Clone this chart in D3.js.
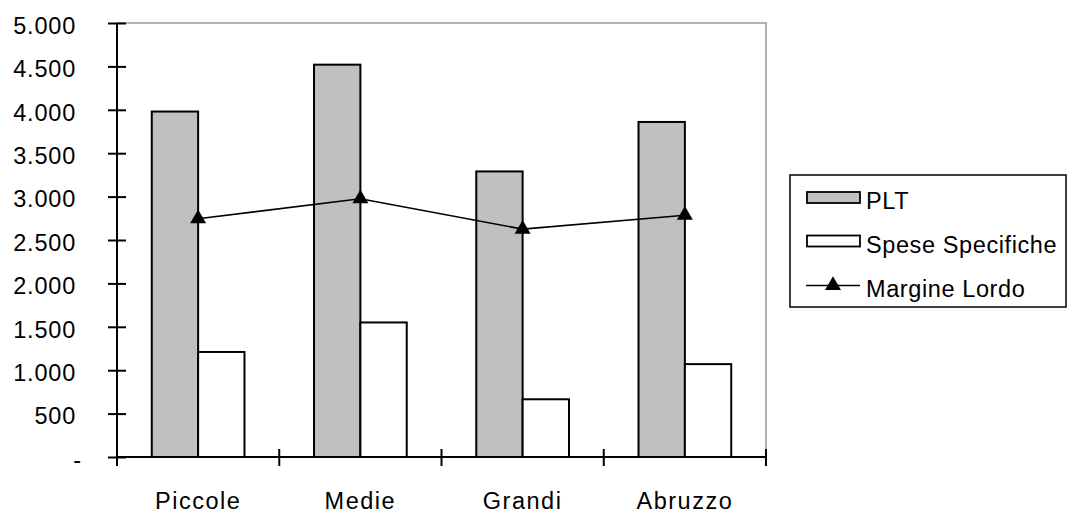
<!DOCTYPE html>
<html><head><meta charset="utf-8">
<script src="https://cdn.jsdelivr.net/npm/d3@7"></script>
<style>
html,body{margin:0;padding:0;background:#fff;}
svg{display:block;font-family:"Liberation Sans",Arial,sans-serif;}
</style></head>
<body>
<svg id="chart" width="1067" height="515"></svg>
<script>
const categories = ["Piccole", "Medie", "Grandi", "Abruzzo"];
const pltValues = [3980, 4520, 3290, 3860];
const speseValues = [1210, 1550, 665, 1070];
const margineValues = [2745, 2975, 2625, 2785];
const seriesNames = ["PLT", "Spese Specifiche", "Margine Lordo"];
const yTicks = [0, 500, 1000, 1500, 2000, 2500, 3000, 3500, 4000, 4500, 5000];
const yTickLabels = ["-", "500", "1.000", "1.500", "2.000", "2.500", "3.000", "3.500", "4.000", "4.500", "5.000"];

(function () {
const svg = d3.select("#chart");
const pL = 117, pR = 766, pT = 23, pB = 457;
const fs = 23.5;

const y = d3.scaleLinear().domain([0, 5000]).range([pB, pT]);
const x = d3.scaleBand().domain(categories).range([pL, pR]).paddingInner(0).paddingOuter(0);
const barW = x.bandwidth() / 3.5;
const xs = d3.scaleBand().domain(["PLT", "Spese"]).range([0, barW * 2]);

// frame (top & right, gray)
svg.append("path")
  .attr("d", `M${pL},${pT}H${pR}V${pB}`)
  .attr("fill", "none").attr("stroke", "#999").attr("stroke-width", 1.5);

// bars
const groups = svg.append("g").selectAll("g").data(categories).join("g")
  .attr("transform", d => `translate(${x(d) + x.bandwidth() / 2 - barW},0)`);
groups.append("rect")
  .attr("x", xs("PLT")).attr("width", xs.bandwidth())
  .attr("y", (d, i) => y(pltValues[i])).attr("height", (d, i) => pB - y(pltValues[i]))
  .attr("fill", "#c0c0c0").attr("stroke", "#000").attr("stroke-width", 2);
groups.append("rect")
  .attr("x", xs("Spese")).attr("width", xs.bandwidth())
  .attr("y", (d, i) => y(speseValues[i])).attr("height", (d, i) => pB - y(speseValues[i]))
  .attr("fill", "#fff").attr("stroke", "#000").attr("stroke-width", 2);

// y axis
const yAxis = d3.axisLeft(y).tickValues(yTicks).tickSize(0)
  .tickFormat((d, i) => yTickLabels[i]);
const gy = svg.append("g").attr("transform", `translate(${pL},0)`).call(yAxis);
gy.select(".domain").remove();
gy.selectAll(".tick text")
  .attr("x", d => d === 0 ? -35 : -41)
  .attr("dy", 10.3)
  .attr("font-size", fs).attr("fill", "#000")
  .attr("font-family", "'Liberation Sans',Arial,sans-serif")
  .style("letter-spacing", "0.8px");
gy.selectAll(".tick").append("line").attr("x1", -9).attr("x2", 9).attr("stroke", "#000").attr("stroke-width", 2);
svg.append("line").attr("x1", pL).attr("x2", pL).attr("y1", pT).attr("y2", pB + 9)
  .attr("stroke", "#000").attr("stroke-width", 2);

// x axis
svg.append("line").attr("x1", pL).attr("x2", pR).attr("y1", pB).attr("y2", pB)
  .attr("stroke", "#000").attr("stroke-width", 2);
const bounds = categories.map(c => x(c)).concat([pR]);
svg.append("g").selectAll("line").data(bounds).join("line")
  .attr("x1", d => d).attr("x2", d => d).attr("y1", pB - 8).attr("y2", pB + 9)
  .attr("stroke", "#000").attr("stroke-width", 2);
svg.append("g").selectAll("text").data(categories).join("text")
  .attr("x", d => x(d) + x.bandwidth() / 2).attr("y", 508.5)
  .attr("text-anchor", "middle").attr("font-size", fs)
  .style("letter-spacing", "1.5px")
  .text(d => d);

// line
const line = d3.line().x((d, i) => x(categories[i]) + x.bandwidth() / 2).y(d => y(d));
svg.append("path").datum(margineValues).attr("d", line)
  .attr("fill", "none").attr("stroke", "#000").attr("stroke-width", 1.6);
const tri = d3.symbol().type(d3.symbolTriangle).size(110);
svg.append("g").selectAll("path").data(margineValues).join("path")
  .attr("d", tri)
  .attr("transform", (d, i) => `translate(${x(categories[i]) + x.bandwidth() / 2},${y(d)})`)
  .attr("fill", "#000");

// legend
const lg = svg.append("g");
lg.append("rect").attr("x", 790).attr("y", 175).attr("width", 276).attr("height", 132)
  .attr("fill", "#fff").attr("stroke", "#000").attr("stroke-width", 1.5);
const rowY = [197.5, 241, 285.5];
lg.append("rect").attr("x", 807).attr("y", rowY[0] - 5.5).attr("width", 53).attr("height", 11)
  .attr("fill", "#c0c0c0").attr("stroke", "#000").attr("stroke-width", 1.8);
lg.append("rect").attr("x", 807).attr("y", rowY[1] - 5.5).attr("width", 53).attr("height", 11)
  .attr("fill", "#fff").attr("stroke", "#000").attr("stroke-width", 1.8);
lg.append("line").attr("x1", 806).attr("x2", 860).attr("y1", rowY[2]).attr("y2", rowY[2])
  .attr("stroke", "#000").attr("stroke-width", 1.6);
lg.append("path").attr("d", tri).attr("transform", `translate(833,${rowY[2]})`).attr("fill", "#000");
lg.selectAll("text").data(seriesNames).join("text")
  .attr("x", 866).attr("y", (d, i) => rowY[i] + 11.5)
  .attr("font-size", fs).style("letter-spacing", "0.6px")
  .text(d => d);
})();
</script>
</body></html>
